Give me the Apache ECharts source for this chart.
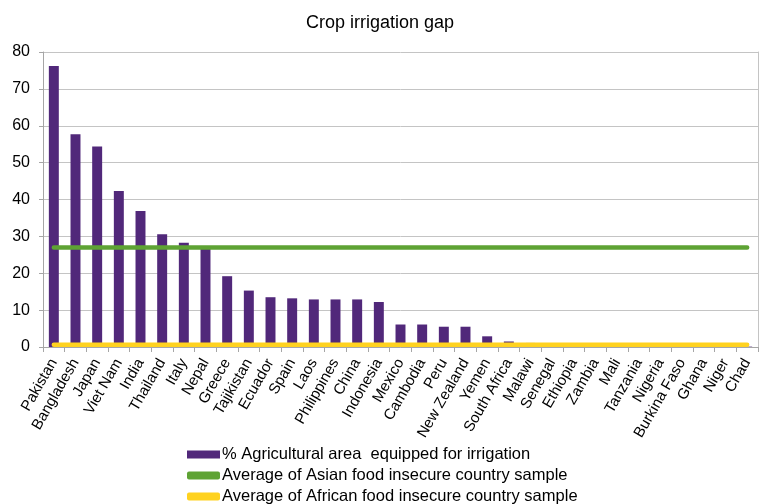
<!DOCTYPE html>
<html><head><meta charset="utf-8">
<script src="https://cdn.jsdelivr.net/npm/echarts@6/dist/echarts.min.js"></script>
<style>html,body{margin:0;padding:0;background:#fff}#c{width:760px;height:504px}</style>
</head><body><div id="c"></div>
<script>
const countries = ["Pakistan","Bangladesh","Japan","Viet Nam","India","Thailand","Italy","Nepal","Greece","Tajikistan","Ecuador","Spain","Laos","Philippines","China","Indonesia","Mexico","Cambodia","Peru","New Zealand","Yemen","South Africa","Malawi","Senegal","Ethiopia","Zambia","Mali","Tanzania","Nigeria","Burkina Faso","Ghana","Niger","Chad"];
const irrigation = [76.2,57.7,54.4,42.3,36.9,30.6,28.3,26.6,19.2,15.3,13.5,13.2,12.9,12.9,12.9,12.2,6.1,6.1,5.5,5.5,2.9,1.5,1.1,1.0,0.5,0.4,0.3,0.3,0.2,0.5,0.3,0.2,0.1];
const asianAvg = 27.0;
const africanAvg = 0.6;
const yTicks = [0,10,20,30,40,50,60,70,80];

const chart = echarts.init(document.getElementById('c'));
const font = '"Liberation Sans", Arial, sans-serif';
chart.setOption({
  animation: false,
  title: { text: 'Crop irrigation gap', left: 'center', top: 9,
    textStyle: { fontFamily: font, fontSize: 18, fontWeight: 'normal', color: '#000' } },
  grid: { left: 43, right: 2, top: 52, bottom: 157, containLabel: false },
  legend: {
    orient: 'vertical', left: 187, top: 446, height: 200, padding: 0, itemGap: 4, itemWidth: 33, itemHeight: 8,
    textStyle: { fontFamily: font, fontSize: 16.5, lineHeight: 17, color: '#000', padding: [0,0,0,-3] },
    data: [
      { name: '% Agricultural area  equipped for irrigation', icon: 'rect' },
      { name: 'Average of Asian food insecure country sample', icon: 'roundRect' },
      { name: 'Average of African food insecure country sample', icon: 'roundRect' }
    ]
  },
  xAxis: {
    type: 'category', data: countries, boundaryGap: true,
    axisLine: { lineStyle: { color: '#a6a6a6' } },
    axisTick: { show: true, alignWithLabel: false, length: 5, lineStyle: { color: '#a6a6a6' } },
    axisLabel: { interval: 0, rotate: 60, fontFamily: font, fontSize: 15, color: '#000', margin: 13 }
  },
  yAxis: [{
    type: 'value', min: yTicks[0], max: yTicks[yTicks.length-1], interval: 10,
    axisLine: { show: true, lineStyle: { color: '#a6a6a6' } },
    axisTick: { show: true, length: 4, lineStyle: { color: '#a6a6a6' } },
    splitLine: { lineStyle: { color: '#c4c4c4', width: 1 } },
    axisLabel: { fontFamily: font, fontSize: 16, color: '#000', margin: 13 }
  }, {
    type: 'value', position: 'right', min: yTicks[0], max: yTicks[yTicks.length-1], interval: 10,
    axisLine: { show: true, lineStyle: { color: '#c4c4c4' } },
    axisTick: { show: false }, axisLabel: { show: false }, splitLine: { show: false }
  }],
  series: [
    { name: '% Agricultural area  equipped for irrigation', type: 'bar', data: irrigation,
      barWidth: '46%', itemStyle: { color: '#51287a' }, z: 2 },
    { name: 'Average of Asian food insecure country sample', type: 'line',
      data: countries.map(() => asianAvg), symbol: 'none',
      lineStyle: { color: '#5ea334', width: 4.5, cap: 'round' }, itemStyle: { color: '#5ea334' }, z: 3 },
    { name: 'Average of African food insecure country sample', type: 'line',
      data: countries.map(() => africanAvg), symbol: 'none',
      lineStyle: { color: '#ffd21f', width: 4.5, cap: 'round' }, itemStyle: { color: '#ffd21f' }, z: 3 }
  ]
});
</script></body></html>
